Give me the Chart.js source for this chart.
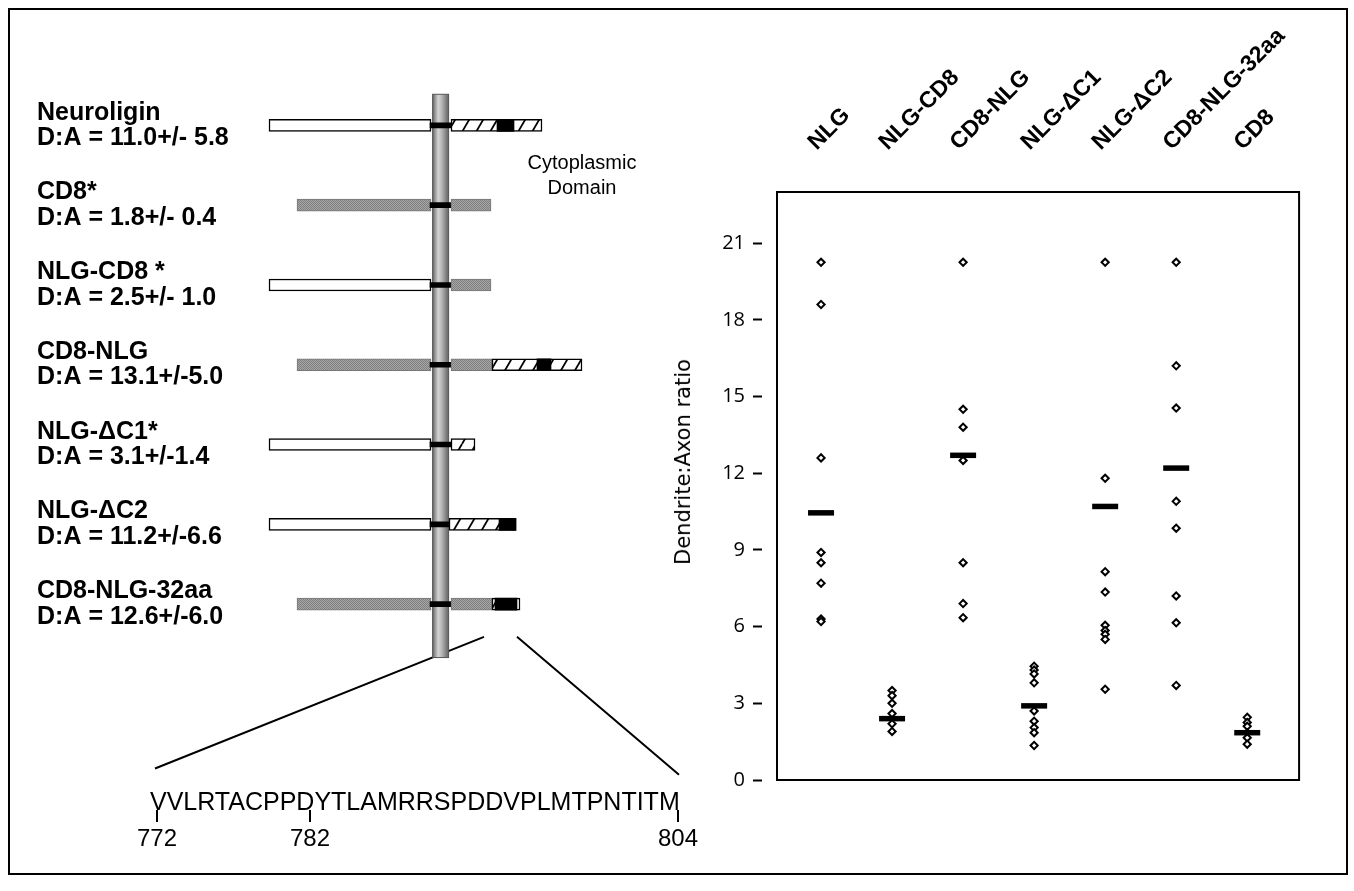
<!DOCTYPE html>
<html>
<head>
<meta charset="utf-8">
<script src="https://cdn.jsdelivr.net/npm/chart.js@4.4.1/dist/chart.umd.min.js"></script>
<style>
body { margin: 0; background: #fff; width: 1354px; height: 891px; position: relative; overflow: hidden; font-family: "Liberation Sans", Arial, sans-serif; }
#frame { position: absolute; left: 8px; top: 8px; width: 1336px; height: 863px; border: 2px solid #000; }
#left { position: absolute; left: 0; top: 60px; }
#right { position: absolute; left: 660px; top: 20px; }
.txt { position: absolute; white-space: nowrap; color: #000; }
.seq { font-size: 25px; left: 150px; top: 789px; line-height: 25px; }
.num { font-size: 24px; top: 826px; line-height: 24px; transform: translateX(-50%); }
.mark { position: absolute; width: 2px; height: 12px; background: #000; top: 810px; }
.cyto { font-size: 20px; left: 582px; top: 150px; text-align: center; transform: translateX(-50%); line-height: 25px; }
.ytitle { font-family: "DejaVu Sans", sans-serif; font-size: 21px; left: 683px; top: 462px; transform: translate(-50%, -50%) rotate(-90deg); }
</style>
</head>
<body>
<div id="frame"></div>
<canvas id="left" width="700" height="800"></canvas>
<canvas id="right" width="660" height="780"></canvas>

<div class="txt cyto">Cytoplasmic<br>Domain</div>
<div class="txt seq">VVLRTACPPDYTLAMRRSPDDVPLMTPNTITM</div>
<div class="mark" style="left:156px"></div>
<div class="mark" style="left:309px"></div>
<div class="mark" style="left:677px"></div>
<div class="txt num" style="left:157px">772</div>
<div class="txt num" style="left:310px">782</div>
<div class="txt num" style="left:678px">804</div>
<div class="txt ytitle">Dendrite:Axon ratio</div>

<script>
// ---- left panel: constructs (schematic domain spans, membrane at 0) ----
const constructs = [
    ['Neuroligin', 'D:A = 11.0+/- 5.8'],
    ['CD8*', 'D:A = 1.8+/- 0.4'],
    ['NLG-CD8 *', 'D:A = 2.5+/- 1.0'],
    ['CD8-NLG', 'D:A = 13.1+/-5.0'],
    ['NLG-\u0394C1*', 'D:A = 3.1+/-1.4'],
    ['NLG-\u0394C2', 'D:A = 11.2+/-6.6'],
    ['CD8-NLG-32aa', 'D:A = 12.6+/-6.0']
];
const ectoType = ['NLG', 'CD8', 'NLG', 'CD8', 'NLG', 'NLG', 'CD8'];
const ectoSpan = [[-43, -2.5], [-36, -2.5], [-43, -2.5], [-36, -2.5], [-43, -2.5], [-43, -2.5], [-36, -2.5]];
const tmSpan = [[-2.75, 2.5], [-2.75, 2.5], [-2.75, 2.5], [-2.75, 2.5], [-2.75, 2.5], [-2.75, 2.5], [-2.75, 2.5]];
const cd8CytoSpan = [null, [2.5, 12.5], [2.5, 12.5], [2.5, 12.75], null, null, [2.5, 12.75]];
const nlgCytoSpan = [[2.5, 25.25], null, null, [12.75, 35.25], [2.5, 8.5], [2, 18.75], [12.75, 19.75]];
const nlgBlackSpan = [[14, 18.25], null, null, [24, 27.5], null, [14.5, 18.75], [13.5, 19]];

// ---- right panel: dendrite:axon ratios ----
const groups = ['NLG', 'NLG-CD8', 'CD8-NLG', 'NLG-\u0394C1', 'NLG-\u0394C2', 'CD8-NLG-32aa', 'CD8'];
const nlgVals = [20.25, 18.6, 12.6, 8.9, 8.5, 7.7, 6.3, 6.2];
const nlgCd8Vals = [3.5, 3.3, 3.0, 2.6, 2.2, 1.9];
const cd8NlgVals = [20.25, 14.5, 13.8, 12.5, 8.5, 6.9, 6.35];
const dC1Vals = [4.45, 4.3, 4.15, 3.8, 2.7, 2.3, 2.05, 1.85, 1.35];
const dC2Vals = [20.25, 11.8, 8.15, 7.35, 6.05, 5.85, 5.7, 5.5, 3.55];
const aa32Vals = [20.25, 16.2, 14.55, 10.9, 9.85, 7.2, 6.15, 3.7];
const cd8Vals = [2.45, 2.25, 2.1, 1.85, 1.65, 1.4];
const means = [10.45, 2.4, 12.7, 2.9, 10.7, 12.2, 1.85];
const yTicks = [0, 3, 6, 9, 12, 15, 18, 21];

const leftCtx = document.getElementById('left').getContext('2d');

function hatchPattern() {
    const c = document.createElement('canvas');
    c.width = 14; c.height = 24;
    const g = c.getContext('2d');
    g.fillStyle = '#fff';
    g.fillRect(0, 0, 14, 24);
    g.strokeStyle = '#000';
    g.lineWidth = 1.8;
    [-14, 0, 14].forEach(dx => {
        g.beginPath();
        g.moveTo(dx, 24);
        g.lineTo(dx + 14, 0);
        g.stroke();
    });
    return leftCtx.createPattern(c, 'repeat');
}

function grayPattern() {
    const c = document.createElement('canvas');
    c.width = 2; c.height = 2;
    const g = c.getContext('2d');
    g.fillStyle = '#a8a8a8';
    g.fillRect(0, 0, 2, 2);
    g.fillStyle = '#7e7e7e';
    g.fillRect(0, 0, 1, 1);
    g.fillRect(1, 1, 1, 1);
    return leftCtx.createPattern(c, 'repeat');
}

const hatch = hatchPattern();
const gray = grayPattern();

const membranePlugin = {
    id: 'membrane',
    beforeDatasetsDraw(chart) {
        const { ctx, scales: { x, y } } = chart;
        ctx.save();
        // lines fanning out to the sequence
        ctx.strokeStyle = '#000';
        ctx.lineWidth = 2;
        ctx.beginPath();
        ctx.moveTo(x.getPixelForValue(10.75), y.getPixelForValue(6.41));
        ctx.lineTo(x.getPixelForValue(-71.5), y.getPixelForValue(8.06));
        ctx.moveTo(x.getPixelForValue(19), y.getPixelForValue(6.41));
        ctx.lineTo(x.getPixelForValue(59.5), y.getPixelForValue(8.14));
        ctx.stroke();

        const x0 = x.getPixelForValue(-2.1), x1 = x.getPixelForValue(1.9);
        const top = y.getPixelForValue(-0.39), bot = y.getPixelForValue(6.67);
        const g = ctx.createLinearGradient(x0, 0, x1, 0);
        g.addColorStop(0, '#666');
        g.addColorStop(0.35, '#d4d4d4');
        g.addColorStop(0.6, '#b0b0b0');
        g.addColorStop(1, '#626262');
        ctx.fillStyle = g;
        ctx.fillRect(x0, top, x1 - x0, bot - top);
        ctx.strokeStyle = '#555';
        ctx.lineWidth = 1;
        ctx.strokeRect(x0, top, x1 - x0, bot - top);
        ctx.restore();
    }
};

new Chart(leftCtx, {
    type: 'bar',
    data: {
        labels: constructs,
        datasets: [
            { data: nlgBlackSpan, backgroundColor: '#000', borderWidth: 0 },
            { data: nlgCytoSpan, backgroundColor: hatch, borderColor: '#000', borderWidth: 1.5 },
            { data: cd8CytoSpan, backgroundColor: gray, borderColor: '#777', borderWidth: 1 },
            { data: tmSpan, backgroundColor: '#000', borderWidth: 0, barThickness: 5 },
            {
                data: ectoSpan,
                backgroundColor: ectoType.map(t => t === 'NLG' ? '#fff' : gray),
                borderColor: ectoType.map(t => t === 'NLG' ? '#000' : '#777'),
                borderWidth: ectoType.map(t => t === 'NLG' ? 1.5 : 1)
            }
        ]
    },
    options: {
        responsive: false,
        animation: false,
        indexAxis: 'y',
        layout: { padding: { left: 37, top: 21, bottom: 216, right: 99 } },
        datasets: { bar: { grouped: false, barThickness: 12, borderSkipped: false } },
        plugins: { legend: { display: false }, tooltip: { enabled: false } },
        scales: {
            x: { type: 'linear', display: false, min: -44, max: 40 },
            y: {
                grid: { display: false },
                border: { display: false },
                ticks: {
                    crossAlign: 'far',
                    padding: 0,
                    color: '#000',
                    font: { family: 'Liberation Sans', size: 25, weight: 'bold', lineHeight: 1.02 }
                },
                afterFit(scale) { scale.width = 228; }
            }
        }
    },
    plugins: [membranePlugin]
});

// ---- right chart ----
const allVals = [nlgVals, nlgCd8Vals, cd8NlgVals, dC1Vals, dC2Vals, aa32Vals, cd8Vals];
const points = [];
allVals.forEach((vals, i) => vals.forEach(v => points.push({ x: i, y: v })));
const meanPoints = means.map((m, i) => ({ x: i, y: m }));

const boxPlugin = {
    id: 'box',
    afterDraw(chart) {
        const { ctx, chartArea: a } = chart;
        ctx.save();
        ctx.strokeStyle = '#000';
        ctx.lineWidth = 2;
        ctx.strokeRect(a.left, a.top, a.right - a.left, a.bottom - a.top);
        ctx.restore();
    }
};

new Chart(document.getElementById('right'), {
    type: 'scatter',
    data: {
        datasets: [
            { data: meanPoints, pointStyle: 'line', radius: 13, borderWidth: 5.5, borderColor: '#000' },
            { data: points, pointStyle: 'rectRot', radius: 3.6, borderWidth: 2, borderColor: '#000', backgroundColor: '#fff' }
        ]
    },
    options: {
        responsive: false,
        animation: false,
        layout: { padding: { left: 0, top: 0, right: 20, bottom: 16 } },
        plugins: { legend: { display: false }, tooltip: { enabled: false } },
        scales: {
            x: { type: 'linear', display: false, min: -0.62, max: 6.73 },
            // label axis, same span as x, shifted slightly so the slanted names start at the columns
            xl: {
                type: 'linear',
                position: 'top',
                min: -0.77,
                max: 6.58,
                grid: { display: false },
                border: { display: true, color: '#000', width: 2 },
                afterBuildTicks(scale) { scale.ticks = groups.map((g, i) => ({ value: i })); },
                afterFit(scale) { scale.height = 172; },
                ticks: {
                    autoSkip: false,
                    minRotation: 45,
                    maxRotation: 45,
                    padding: 28,
                    color: '#000',
                    font: { family: 'Liberation Sans', size: 23, weight: 'bold' },
                    callback: v => groups[v] ?? ''
                }
            },
            y: {
                min: 0,
                max: 23,
                afterBuildTicks(scale) { scale.ticks = yTicks.map(v => ({ value: v })); },
                afterFit(scale) { scale.width = 117; },
                grid: {
                    drawOnChartArea: false,
                    drawTicks: true,
                    tickLength: 24,
                    tickColor: '#000',
                    tickWidth: 2,
                    tickBorderDash: [9, 40]
                },
                border: { display: true, color: '#000', width: 2 },
                ticks: {
                    padding: 8,
                    color: '#000',
                    font: { family: 'Open Sans', size: 20 }
                }
            }
        }
    },
    plugins: [boxPlugin]
});
</script>
</body>
</html>
